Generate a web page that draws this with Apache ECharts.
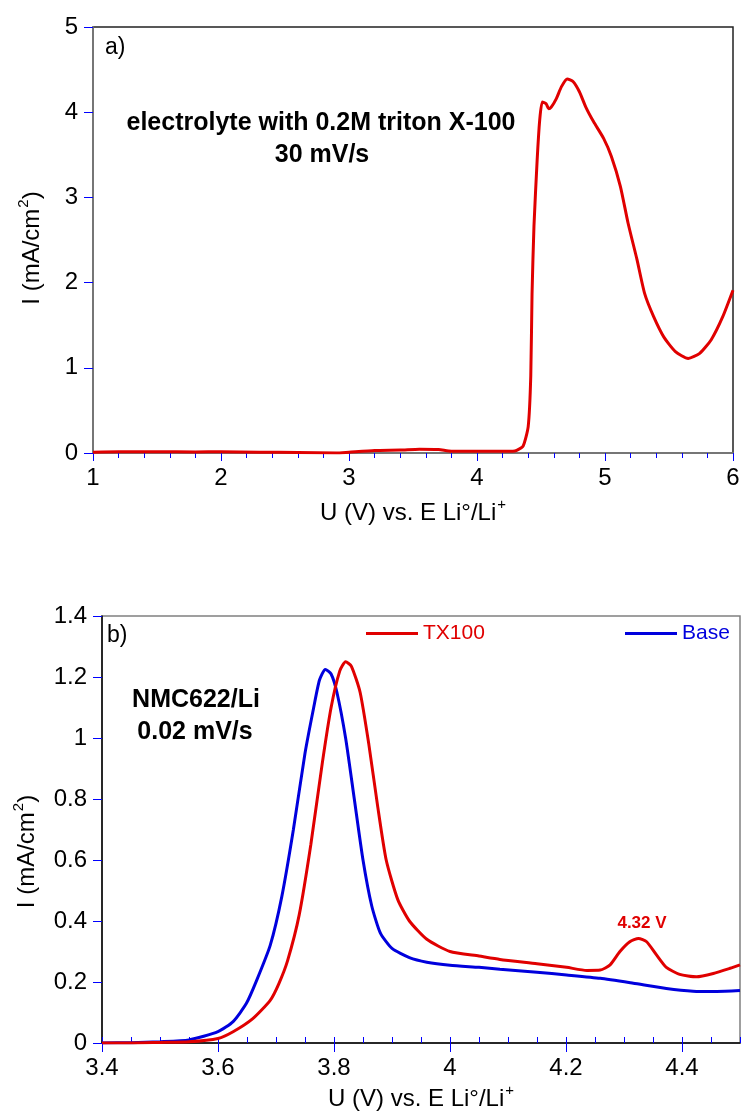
<!DOCTYPE html>
<html>
<head>
<meta charset="utf-8">
<script src="https://cdn.jsdelivr.net/npm/echarts@6/dist/echarts.min.js"></script>
<style>
html,body{margin:0;padding:0;background:#fff;}
#c{width:744px;height:1117px;}
</style>
</head>
<body>
<div id="c"></div>
<script>
// ---- Panel a) data ----
const topU = [1.0, 1.2, 1.5, 1.8, 2.0, 2.3, 2.6, 2.9, 3.0, 3.2, 3.4, 3.55, 3.7, 3.8, 4.0, 4.2, 4.28, 4.31, 4.36, 4.40, 4.42, 4.43, 4.445, 4.47, 4.49, 4.51, 4.54, 4.56, 4.58, 4.62, 4.66, 4.705, 4.75, 4.80, 4.85, 4.91, 4.99, 5.05, 5.12, 5.18, 5.25, 5.31, 5.38, 5.46, 5.55, 5.65, 5.74, 5.83, 5.92, 6.0];
const topI = [0.01, 0.015, 0.015, 0.012, 0.015, 0.01, 0.005, 0.0, 0.01, 0.03, 0.035, 0.045, 0.04, 0.02, 0.02, 0.02, 0.02, 0.03, 0.08, 0.31, 0.90, 1.87, 2.66, 3.44, 3.91, 4.12, 4.10, 4.04, 4.06, 4.16, 4.30, 4.39, 4.36, 4.24, 4.06, 3.89, 3.69, 3.48, 3.13, 2.70, 2.27, 1.87, 1.60, 1.36, 1.19, 1.11, 1.17, 1.33, 1.60, 1.91];

// ---- Panel b) data ----
const baseU = [3.4, 3.45, 3.5, 3.55, 3.6, 3.626, 3.649, 3.667, 3.69, 3.71, 3.73, 3.75, 3.765, 3.775, 3.785, 3.795, 3.805, 3.82, 3.835, 3.85, 3.865, 3.88, 3.9, 3.93, 3.96, 4.0, 4.05, 4.086, 4.15, 4.201, 4.259, 4.316, 4.373, 4.419, 4.46, 4.5];
const baseI = [0, 0.001, 0.004, 0.01, 0.037, 0.07, 0.13, 0.207, 0.32, 0.48, 0.7, 0.95, 1.1, 1.19, 1.225, 1.21, 1.15, 1.0, 0.8, 0.6, 0.45, 0.36, 0.31, 0.28, 0.265, 0.255, 0.248, 0.242, 0.232, 0.223, 0.212, 0.196, 0.179, 0.170, 0.169, 0.172];
const txU = [3.4, 3.45, 3.5, 3.55, 3.6, 3.626, 3.66, 3.69, 3.705, 3.72, 3.74, 3.76, 3.78, 3.795, 3.81, 3.82, 3.83, 3.845, 3.86, 3.875, 3.89, 3.91, 3.93, 3.96, 4.0, 4.05, 4.086, 4.15, 4.201, 4.236, 4.259, 4.276, 4.293, 4.31, 4.325, 4.339, 4.356, 4.373, 4.396, 4.425, 4.454, 4.483, 4.5];
const txI = [0, 0, 0.002, 0.004, 0.015, 0.037, 0.08, 0.14, 0.195, 0.27, 0.42, 0.65, 0.92, 1.1, 1.22, 1.25, 1.235, 1.15, 0.98, 0.78, 0.6, 0.47, 0.4, 0.34, 0.3, 0.285, 0.274, 0.26, 0.248, 0.238, 0.239, 0.256, 0.30, 0.332, 0.343, 0.332, 0.289, 0.248, 0.225, 0.217, 0.228, 0.245, 0.256];

const seriesNames = ['TX100', 'Base'];

const RED = '#e00000', BLUE = '#0000dd', TICK = '#0000ff';
const FONT = "'Liberation Sans', Arial, sans-serif";
const zip = (a, b) => a.map((v, i) => [v, b[i]]);

const chart = echarts.init(document.getElementById('c'), null, {renderer: 'canvas'});

const labelStyle = {color: '#000', fontSize: 24, fontFamily: FONT};
const richName = {
  a: {fontSize: 24, fontFamily: FONT, color: '#000'},
  s: {fontSize: 15, fontFamily: FONT, color: '#000', padding: [0, 0, 17, 1]}
};

function xAxisCfg(grid, min, max, interval, opts) {
  return Object.assign({
    type: 'value', gridIndex: grid, min: min, max: max, interval: interval,
    axisLine: {show: true, onZero: false, lineStyle: {color: '#808080', width: 1.5}},
    axisTick: {show: true, inside: false, length: 8, lineStyle: {color: TICK, width: 1}},
    axisLabel: Object.assign({margin: 13}, labelStyle),
    splitLine: {show: false}
  }, opts || {});
}

const option = {
  animation: false,
  backgroundColor: '#fff',
  grid: [
    {left: 93, top: 27, width: 640, height: 426, show: true, borderColor: '#222', borderWidth: 1.5, backgroundColor: 'transparent'},
    {left: 102, top: 616, width: 638, height: 427, show: true, borderColor: '#808080', borderWidth: 1.5, backgroundColor: 'transparent'}
  ],
  xAxis: [
    xAxisCfg(0, 1, 6, 1, {
      minorTick: {show: true, splitNumber: 5, length: 5, lineStyle: {color: TICK, width: 1}},
      name: '{a|U (V) vs. E Li°/Li}{s|+}', nameLocation: 'middle', nameGap: 44,
      nameTextStyle: {rich: richName}
    }),
    xAxisCfg(1, 3.4, 4.5, 0.2, {
      axisLine: {show: true, onZero: false, lineStyle: {color: '#000', width: 1.5}},
      axisTick: {show: true, inside: false, length: 9, lineStyle: {color: TICK, width: 1}},
      axisLabel: Object.assign({margin: 13, showMaxLabel: false, formatter: v => String(+v.toFixed(1))}, labelStyle),
      name: '{a|U (V) vs. E Li°/Li}{s|+}', nameLocation: 'middle', nameGap: 40,
      nameTextStyle: {rich: richName}
    }),
    xAxisCfg(1, 3.4, 4.5, 0.05, {
      axisLine: {show: false},
      axisTick: {show: true, inside: false, length: 6, lineStyle: {color: TICK, width: 1}},
      axisLabel: {show: false}
    })
  ],
  yAxis: [
    {
      type: 'value', gridIndex: 0, min: 0, max: 5, interval: 1,
      axisLine: {show: true, onZero: false, lineStyle: {color: '#808080', width: 1.5}},
      axisTick: {show: true, inside: false, length: 9, lineStyle: {color: TICK, width: 1}},
      axisLabel: Object.assign({margin: 15}, labelStyle),
      splitLine: {show: false},
      name: '{a|I (mA/cm}{s|2}{a|)}', nameLocation: 'middle', nameRotate: 90, nameGap: 45,
      nameTextStyle: {rich: richName, padding: [0, 16, 0, 0]}
    },
    {
      type: 'value', gridIndex: 1, min: 0, max: 1.4, interval: 0.2,
      axisLine: {show: true, onZero: false, lineStyle: {color: '#000', width: 1.5}},
      axisTick: {show: true, inside: false, length: 9, lineStyle: {color: TICK, width: 1}},
      axisLabel: Object.assign({margin: 15, formatter: v => String(+v.toFixed(1))}, labelStyle),
      splitLine: {show: false},
      name: '{a|I (mA/cm}{s|2}{a|)}', nameLocation: 'middle', nameRotate: 90, nameGap: 59,
      nameTextStyle: {rich: richName, padding: [0, 44, 0, 0]}
    }
  ],
  legend: [
    {data: [seriesNames[0]], left: 366, top: 623, padding: 0, itemWidth: 52, itemHeight: 3, icon: 'rect',
     itemStyle: {color: RED}, textStyle: {color: RED, fontSize: 21, fontFamily: FONT}, selectedMode: false},
    {data: [seriesNames[1]], left: 625, top: 623, padding: 0, itemWidth: 52, itemHeight: 3, icon: 'rect',
     itemStyle: {color: BLUE}, textStyle: {color: BLUE, fontSize: 21, fontFamily: FONT}, selectedMode: false}
  ],
  series: [
    {name: 'a', type: 'line', xAxisIndex: 0, yAxisIndex: 0, data: zip(topU, topI), symbol: 'none',
     smooth: 0.2, lineStyle: {color: RED, width: 3}, itemStyle: {color: RED}, clip: true},
    {name: seriesNames[1], type: 'line', xAxisIndex: 1, yAxisIndex: 1, data: zip(baseU, baseI), symbol: 'none',
     smooth: 0.2, lineStyle: {color: BLUE, width: 3}, itemStyle: {color: BLUE}, clip: true, z: 2},
    {name: seriesNames[0], type: 'line', xAxisIndex: 1, yAxisIndex: 1, data: zip(txU, txI), symbol: 'none',
     smooth: 0.2, lineStyle: {color: RED, width: 3}, itemStyle: {color: RED}, clip: true, z: 3}
  ],
  graphic: [
    {type: 'text', left: 105, top: 36, style: {text: 'a)', fontSize: 23, fontFamily: FONT, fill: '#000'}},
    {type: 'text', left: 107, top: 624, style: {text: 'b)', fontSize: 23, fontFamily: FONT, fill: '#000'}},
    {type: 'text', x: 321, y: 123, style: {text: 'electrolyte with 0.2M triton X-100', fontSize: 25, fontWeight: 'bold', fontFamily: FONT, fill: '#000', align: 'center', verticalAlign: 'middle'}},
    {type: 'text', x: 322, y: 155, style: {text: '30 mV/s', fontSize: 25, fontWeight: 'bold', fontFamily: FONT, fill: '#000', align: 'center', verticalAlign: 'middle'}},
    {type: 'text', x: 196, y: 700, style: {text: 'NMC622/Li', fontSize: 25, fontWeight: 'bold', fontFamily: FONT, fill: '#000', align: 'center', verticalAlign: 'middle'}},
    {type: 'text', x: 195, y: 732, style: {text: '0.02 mV/s', fontSize: 25, fontWeight: 'bold', fontFamily: FONT, fill: '#000', align: 'center', verticalAlign: 'middle'}},
    {type: 'text', x: 642, y: 923, style: {text: '4.32 V', fontSize: 17, fontWeight: 'bold', fontFamily: FONT, fill: RED, align: 'center', verticalAlign: 'middle'}}
  ]
};
chart.setOption(option);
</script>
</body>
</html>
